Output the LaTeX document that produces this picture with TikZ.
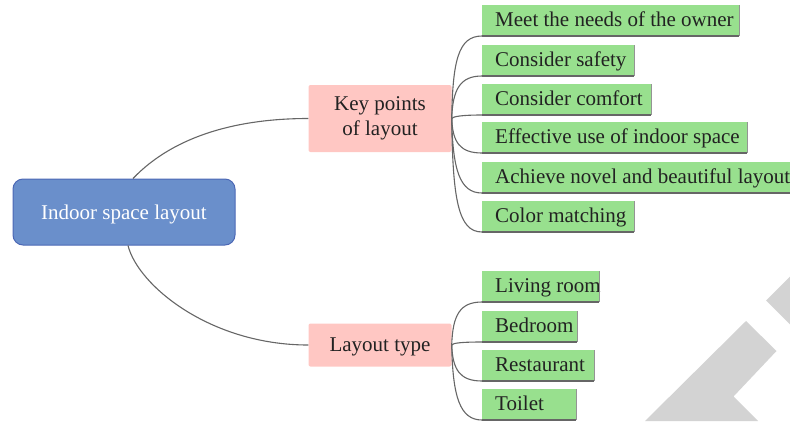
\documentclass[tikz,border=0pt]{standalone}
\usepackage{fontspec}
\setmainfont{Liberation Serif}
\definecolor{rootfill}{HTML}{6A8FCB}
\definecolor{rootdraw}{HTML}{4C68B5}
\definecolor{pinkfill}{HTML}{FFC7C3}
\definecolor{leaffill}{HTML}{98E08E}
\definecolor{linecol}{HTML}{666666}
\definecolor{wmcol}{HTML}{D3D3D3}
\definecolor{txt}{HTML}{222222}
\newcommand{\leaftext}[2]{\makebox[#1pt][l]{\hspace*{13pt}#2}}
\tikzset{
  rootbox/.style={draw=rootdraw, line width=1pt, fill=rootfill, rounded corners=10pt,
    minimum width=222pt, minimum height=66pt, text=white, inner sep=0pt,
    text height=16pt, text depth=2pt},
  pinkbox/.style={fill=pinkfill, rounded corners=2pt, minimum width=143pt,
    text=txt, inner sep=0pt, align=center},
  leaf/.style={fill=leaffill, anchor=south west, text=txt, inner xsep=0pt, inner ysep=6.5pt,
    text height=15pt, text depth=3pt},
  conn/.style={draw=linecol, line width=1.1pt},
  under/.style={draw=linecol, line width=1.1pt},
  redge/.style={draw=linecol!70, line width=0.8pt},
  wm/.style={fill=wmcol}
}
\begin{document}
\begin{tikzpicture}[x=1pt, y=-1pt, font=\fontsize{21}{25}\selectfont]
\useasboundingbox (0,0) rectangle (790,421);
% watermark shapes
\fill[wm] (645,421) -- (746,321) -- (776.5,351) -- (733.5,396.5) -- (758,421) -- cycle;
\fill[wm] (766,300.5) -- (790,276.5) -- (790,324.5) -- cycle;

\node[rootbox] (root) at (124,212) {Indoor space layout};
\node[pinkbox, minimum height=67pt] (key) at (380,118.5) {Key points\\of layout};
\node[pinkbox, minimum height=43pt, text height=15pt, text depth=3pt] (ltype) at (380,345) {Layout type};

\node[leaf] (m1) at (482,36) {\leaftext{257}{Meet the needs of the owner}};
\node[leaf] (m2) at (482,76) {\leaftext{152}{Consider safety}};
\node[leaf] (m3) at (482,115) {\leaftext{169}{Consider comfort}};
\node[leaf] (m4) at (482,153) {\leaftext{265}{Effective use of indoor space}};
\node[leaf] (m5) at (482,193) {\leaftext{330}{Achieve novel and beautiful layout}};
\node[leaf] (m6) at (482,232) {\leaftext{152}{Color matching}};

\node[leaf] (t1) at (482,302) {\leaftext{117}{Living room}};
\node[leaf] (t2) at (482,342) {\leaftext{95}{Bedroom}};
\node[leaf] (t3) at (482,381) {\leaftext{112}{Restaurant}};
\node[leaf] (t4) at (482,420) {\leaftext{94}{Toilet}};

\foreach \n in {m1,m2,m3,m4,m5,m6,t1,t2,t3,t4}{
  \draw[redge] (\n.south east) -- (\n.north east);
  \draw[under] (\n.south west) -- (\n.south east);
}

\draw[conn] ([xshift=9pt]root.north) .. controls +(42,-44) and +(-68,0) .. (key.west);
\draw[conn] ([xshift=4pt]root.south) .. controls +(10,40) and +(-98,0) .. (ltype.west);

\draw[conn] (key.east) .. controls +(1,-57) and +(-24,0) .. (m1.south west);
\draw[conn] (key.east) .. controls +(1,-29) and +(-22,0) .. (m2.south west);
\draw[conn] (key.east) .. controls +(1,-2) and +(-20,0) .. (m3.south west);
\draw[conn] (key.east) .. controls +(1,24) and +(-22,0) .. (m4.south west);
\draw[conn] (key.east) .. controls +(1,52) and +(-22,0) .. (m5.south west);
\draw[conn] (key.east) .. controls +(1,80) and +(-24,0) .. (m6.south west);

\draw[conn] (ltype.east) .. controls +(1,-30) and +(-22,0) .. (t1.south west);
\draw[conn] (ltype.east) .. controls +(1,-2) and +(-20,0) .. (t2.south west);
\draw[conn] (ltype.east) .. controls +(1,25) and +(-22,0) .. (t3.south west);
\draw[conn] (ltype.east) .. controls +(1,52) and +(-22,0) .. (t4.south west);
\end{tikzpicture}
\end{document}
